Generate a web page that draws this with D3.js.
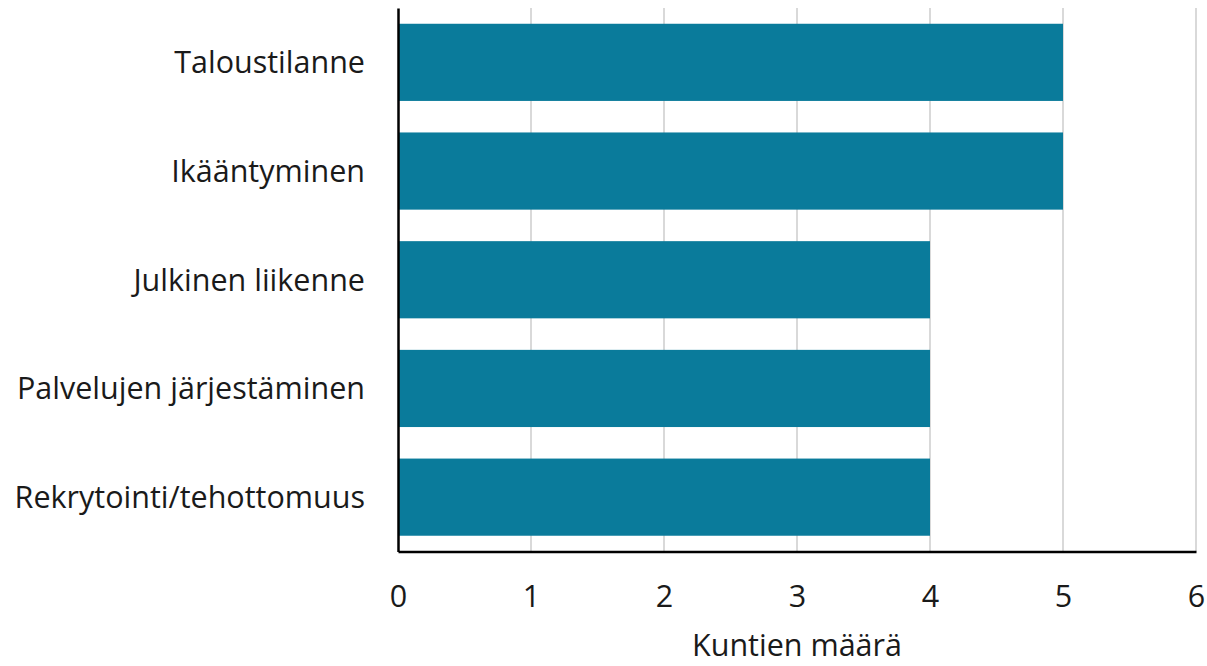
<!DOCTYPE html>
<html><head><meta charset="utf-8">
<script src="https://cdn.jsdelivr.net/npm/d3@7"></script>
<style>body{margin:0;background:#fff}svg{display:block}text{font-family:"Open Sans",sans-serif;fill:#1a1a1a}</style>
</head><body><svg id="c" width="1207" height="666"></svg>
<script>
const categories=["Taloustilanne","Ikääntyminen","Julkinen liikenne","Palvelujen järjestäminen","Rekrytointi/tehottomuus"];
const values=[5,5,4,4,4];
const xTicks=[0,1,2,3,4,5,6];
const xTitle="Kuntien määrä";

const FONT='"Open Sans",sans-serif';
const FS=30.5;
const svg=d3.select("#c");
const x=d3.scaleLinear().domain([0,6]).range([398,1196]);
const y=d3.scaleBand().domain(categories).range([8,551.5]).paddingInner(0.29).paddingOuter(0.145);

svg.append("g").selectAll("line").data(xTicks.filter(d=>d>0)).join("line")
 .attr("x1",d=>x(d)).attr("x2",d=>x(d)).attr("y1",8).attr("y2",551.5)
 .attr("stroke","#d9d9d9").attr("stroke-width",2);

svg.append("g").selectAll("rect").data(values).join("rect")
 .attr("x",x(0)).attr("y",(d,i)=>y(categories[i])).attr("width",d=>x(d)-x(0)).attr("height",y.bandwidth())
 .attr("fill","#0a7b9b");

const xa=svg.append("g").attr("transform","translate(0,551.5)").call(d3.axisBottom(x).tickValues(xTicks).tickSize(0).tickPadding(0).tickFormat(d3.format("d")));
xa.select(".domain").attr("stroke","#000").attr("stroke-width",2.5);
xa.selectAll("text").attr("y",55.5).attr("dy",null).attr("font-size",FS).attr("font-family",FONT).attr("fill","#1a1a1a");

const ya=svg.append("g").attr("transform","translate(398,0)").call(d3.axisLeft(y).tickSize(0).tickPadding(33));
ya.select(".domain").attr("stroke","#000").attr("stroke-width",2.5);
ya.selectAll("text").attr("dy","0.36em").attr("font-size",FS).attr("font-family",FONT).attr("fill","#1a1a1a");

svg.append("text").attr("x",x(3)).attr("y",656).attr("text-anchor","middle").attr("font-size",FS).attr("font-family",FONT).text(xTitle);
</script></body></html>
